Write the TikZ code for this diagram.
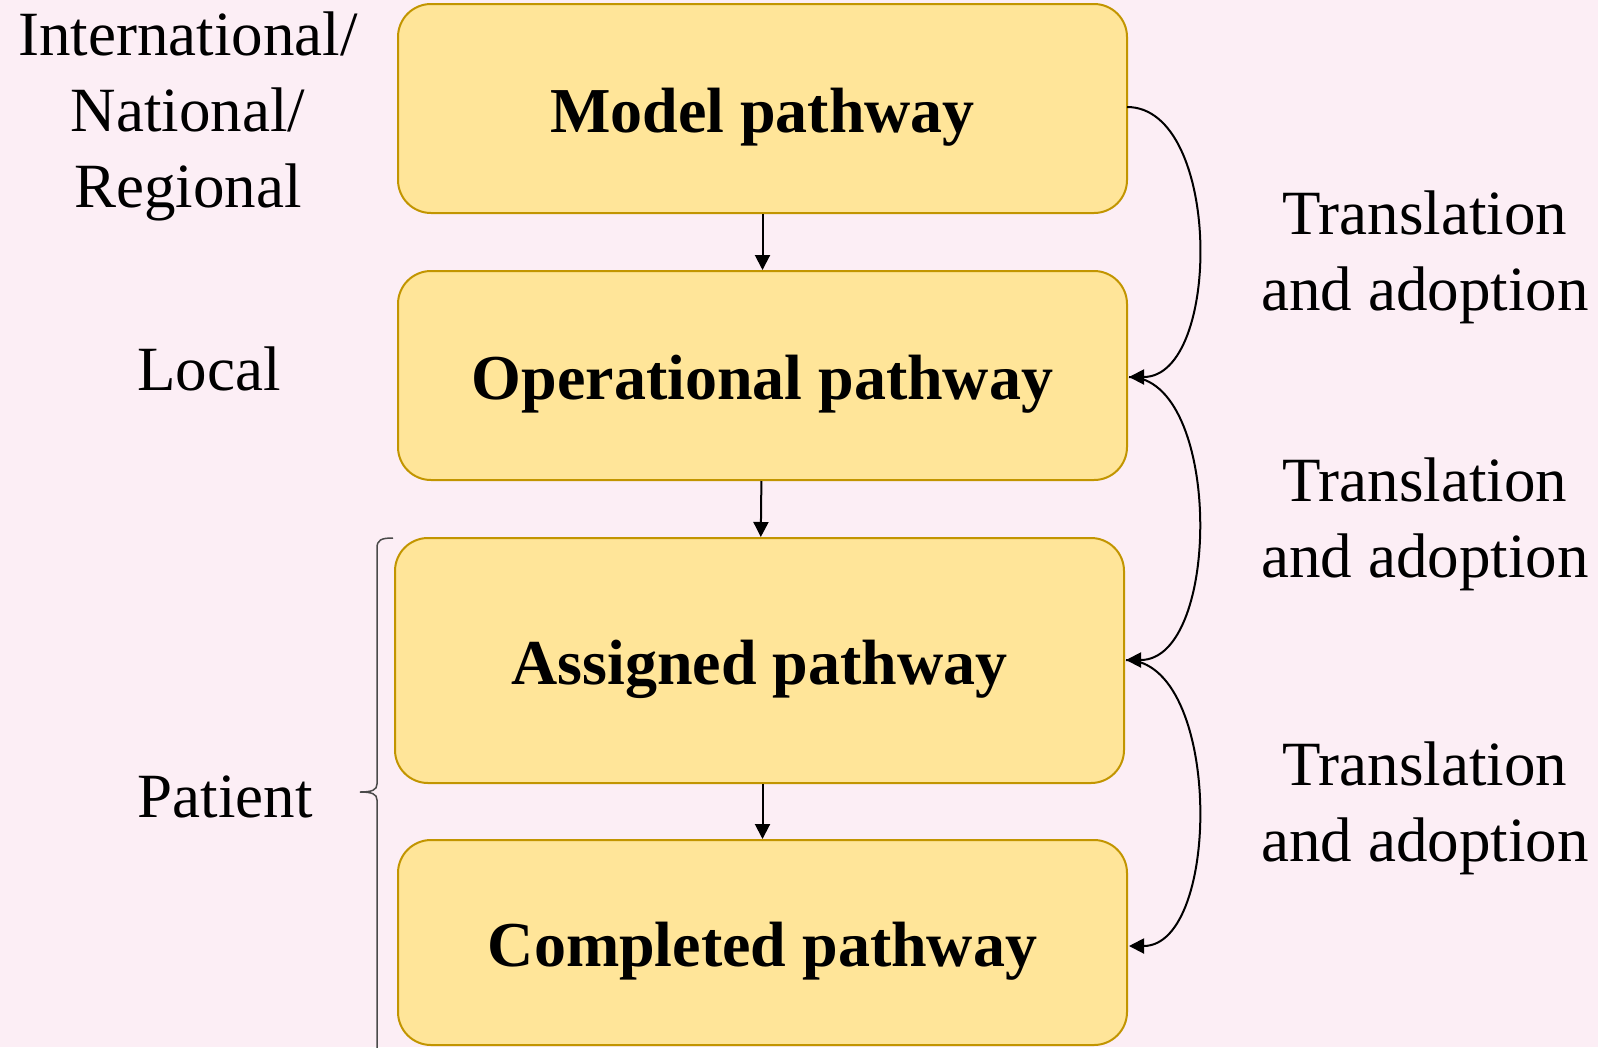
\documentclass[tikz,border=0pt]{standalone}
\usepackage{fontspec}
\setmainfont{Liberation Serif}
\usetikzlibrary{arrows.meta}
\definecolor{bg}{HTML}{FCEEF5}
\definecolor{boxfill}{HTML}{FFE599}
\definecolor{boxdraw}{HTML}{C29500}
\definecolor{bracecol}{HTML}{4A4A4A}
\tikzset{
  pbox/.style={draw=boxdraw, fill=boxfill, line width=2pt, rounded corners=33pt, minimum width=729pt, inner sep=0pt, text height=62pt, text depth=14pt, font=\fontsize{64}{72}\selectfont\bfseries},
  lbl/.style={align=center, font=\fontsize{63}{76}\selectfont, inner sep=0pt},
  arr/.style={-{Triangle[length=15pt,width=15pt]}, line width=2pt, black},
}
\begin{document}
\begin{tikzpicture}[x=1pt,y=-1pt]
\fill[bg] (0,0) rectangle (1598,1047);
\useasboundingbox (0,0) rectangle (1598,1047);
\node[pbox, minimum height=209pt] (m) at (762.5,108.5) {Model pathway};
\node[pbox, minimum height=209pt] (o) at (762.5,375.5) {Operational pathway};
\node[pbox, minimum height=245pt] (a) at (759.5,660.5) {Assigned pathway};
\node[pbox, minimum height=205pt] (c) at (762.5,942.5) {Completed pathway};
\draw[arr] (m) -- (o);
\draw[arr] (o) -- (a);
\draw[arr] (a.south -| c.north) -- (c);
\coordinate (m1) at (1127,107);
\coordinate (o1) at (1129,377);
\coordinate (a1) at (1126,660);
\coordinate (c1) at (1129,946);
\draw[arr] (m1) .. controls (1222,107) and (1222,377) .. (o1);
\draw[arr] (o1) .. controls (1222,377) and (1222,660) .. (a1);
\draw[arr] (a1) .. controls (1222,660) and (1222,946) .. (c1);
\node[lbl] (t1) at (1425,257) {Translation\\and adoption};
\node[lbl] (t2) at (1425,524) {Translation\\and adoption};
\node[lbl] (t3) at (1425,808) {Translation\\and adoption};
\node[lbl] (l1) at (188,116) {International/\\National/\\Regional};
\node[lbl] (l2) at (209,369) {Local};
\node[lbl] (l3) at (225,797) {Patient};
\coordinate (bt) at (393,538);
\coordinate (bm) at (360,792);
\coordinate (bb) at (393,1070);
\draw[bracecol, line width=1.5pt] (bt) .. controls (381,538) and (377,540) .. (377,548)
  -- (377,784) .. controls (377,790) and (372,792) .. (bm)
  .. controls (372,792) and (377,794) .. (377,800)
  -- (377,1060) .. controls (377,1068) and (381,1070) .. (bb);
\end{tikzpicture}
\end{document}
